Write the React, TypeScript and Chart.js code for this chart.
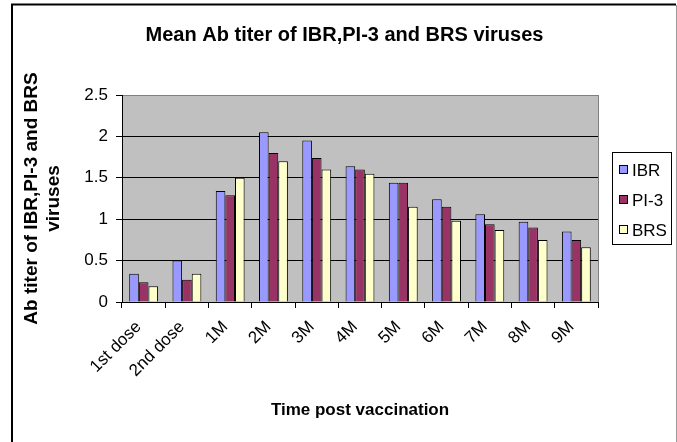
import React, { useEffect, useRef } from 'react';
import { Chart, registerables } from 'chart.js';

Chart.register(...registerables);

const categories = ['1st dose', '2nd dose', '1M', '2M', '3M', '4M', '5M', '6M', '7M', '8M', '9M'];
const ibrValues = [0.34, 0.5, 1.34, 2.05, 1.95, 1.64, 1.44, 1.24, 1.06, 0.97, 0.85];
const pi3Values = [0.24, 0.27, 1.29, 1.8, 1.74, 1.6, 1.44, 1.15, 0.94, 0.9, 0.75];
const brsValues = [0.19, 0.34, 1.5, 1.7, 1.6, 1.55, 1.15, 0.98, 0.87, 0.75, 0.66];
const seriesNames = ['IBR', 'PI-3', 'BRS'];
const seriesColors = ['#9999FF', '#993366', '#FFFFCC'];
const chartTitle = 'Mean Ab titer of IBR,PI-3 and BRS viruses';
const yTitle = ['Ab titer of IBR,PI-3 and BRS', 'viruses'];
const xTitle = 'Time post vaccination';
const yMin = 0;
const yMax = 2.5;
const yStep = 0.5;

const FONT = '"Liberation Sans", Arial, Helvetica, sans-serif';

export default function App() {
  const ref = useRef<HTMLCanvasElement>(null);

  useEffect(() => {
    const canvas = ref.current;
    if (!canvas) return;

    const decor = {
      id: 'decor',
      beforeDraw(chart: any) {
        const { ctx, chartArea: a } = chart;
        ctx.save();
        ctx.fillStyle = '#ffffff';
        ctx.fillRect(0, 0, chart.width, chart.height);
        ctx.fillStyle = '#C0C0C0';
        ctx.fillRect(a.left, a.top, a.right - a.left, a.bottom - a.top);
        // outer frame
        ctx.strokeStyle = '#000';
        ctx.lineWidth = 2;
        ctx.beginPath();
        ctx.moveTo(12, 470);
        ctx.lineTo(12, 4.5);
        ctx.lineTo(676, 4.5);
        ctx.stroke();
        ctx.strokeStyle = '#9a9a9a';
        ctx.lineWidth = 1;
        ctx.beginPath();
        ctx.moveTo(676.5, 5);
        ctx.lineTo(676.5, 470);
        ctx.stroke();
        // title
        ctx.fillStyle = '#000';
        ctx.font = `bold 20px ${FONT}`;
        ctx.textAlign = 'center';
        ctx.textBaseline = 'middle';
        ctx.fillText(chartTitle, 344.5, 35);
        ctx.restore();
      },
      beforeDatasetsDraw(chart: any) {
        const { ctx, chartArea: a } = chart;
        ctx.save();
        ctx.strokeStyle = '#808080';
        ctx.lineWidth = 1;
        ctx.beginPath();
        ctx.moveTo(Math.round(a.right) + 0.5, a.top);
        ctx.lineTo(Math.round(a.right) + 0.5, a.bottom);
        ctx.stroke();
        ctx.restore();
      },
      afterDraw(chart: any) {
        const { ctx } = chart;
        ctx.save();
        // legend box
        ctx.strokeStyle = '#000';
        ctx.lineWidth = 1;
        ctx.strokeRect(612.5, 152.5, 59, 92);
        const ys = [170, 200, 230];
        ctx.font = `17px ${FONT}`;
        ctx.textAlign = 'left';
        ctx.textBaseline = 'middle';
        seriesNames.forEach((name, i) => {
          ctx.fillStyle = seriesColors[i];
          ctx.fillRect(619.5, ys[i] - 4.5, 8, 8);
          ctx.strokeStyle = '#000';
          ctx.strokeRect(619.5, ys[i] - 4.5, 8, 8);
          ctx.fillStyle = '#000';
          ctx.fillText(name, 632, ys[i] + 1);
        });
        ctx.restore();
      },
    };

    const seriesData = [ibrValues, pi3Values, brsValues];

    const chart = new Chart(canvas, {
      type: 'bar',
      data: {
        labels: categories,
        datasets: seriesNames.map((name, i) => ({
          label: name,
          data: seriesData[i],
          backgroundColor: seriesColors[i],
          borderColor: '#000',
          borderWidth: 1,
          categoryPercentage: 0.667,
          barPercentage: 1.0,
        })),
      },
      options: {
        responsive: false,
        maintainAspectRatio: false,
        animation: false,
        devicePixelRatio: 1,
        layout: { padding: { left: 12, right: 79, top: 95, bottom: 0 } },
        plugins: {
          legend: { display: false },
          title: { display: false },
          tooltip: { enabled: false },
        },
        scales: {
          x: {
            afterFit: (scale: any) => {
              scale.height = 140;
            },
            grid: {
              display: true,
              drawOnChartArea: false,
              drawTicks: true,
              tickLength: 6,
              color: '#000',
              offset: true,
            },
            border: { display: true, color: '#000', width: 1 },
            ticks: {
              color: '#000',
              font: { family: FONT, size: 17 },
              minRotation: 45,
              maxRotation: 45,
              padding: 9,
              labelOffset: -5,
              autoSkip: false,
            },
            title: {
              display: true,
              text: xTitle,
              color: '#000',
              font: { family: FONT, size: 17, weight: 'bold' },
              padding: { top: 0, bottom: 21 },
            },
          },
          y: {
            min: yMin,
            max: yMax,
            afterFit: (scale: any) => {
              scale.width = 110;
            },
            grid: {
              color: (c: any) => (c.tick && c.tick.value === yMax ? '#808080' : '#000'),
              tickColor: '#000',
              tickLength: 6,
              lineWidth: 1,
            },
            border: { display: true, color: '#000', width: 1 },
            ticks: {
              stepSize: yStep,
              color: '#000',
              font: { family: FONT, size: 17 },
              padding: 8,
              callback: (v: any) => String(Number(v)),
            },
            title: {
              display: true,
              text: yTitle,
              color: '#000',
              font: { family: FONT, size: 19, weight: 'bold', lineHeight: '22px' },
              padding: { top: 9, bottom: 0 },
            },
          },
        },
      },
      plugins: [decor],
    } as any);

    return () => {
      chart.destroy();
    };
  }, []);

  return (
    <div style={{ position: 'absolute', left: 0, top: 0, width: 677, height: 442 }}>
      <canvas ref={ref} width={677} height={442} style={{ display: 'block', width: 677, height: 442 }} />
    </div>
  );
}
